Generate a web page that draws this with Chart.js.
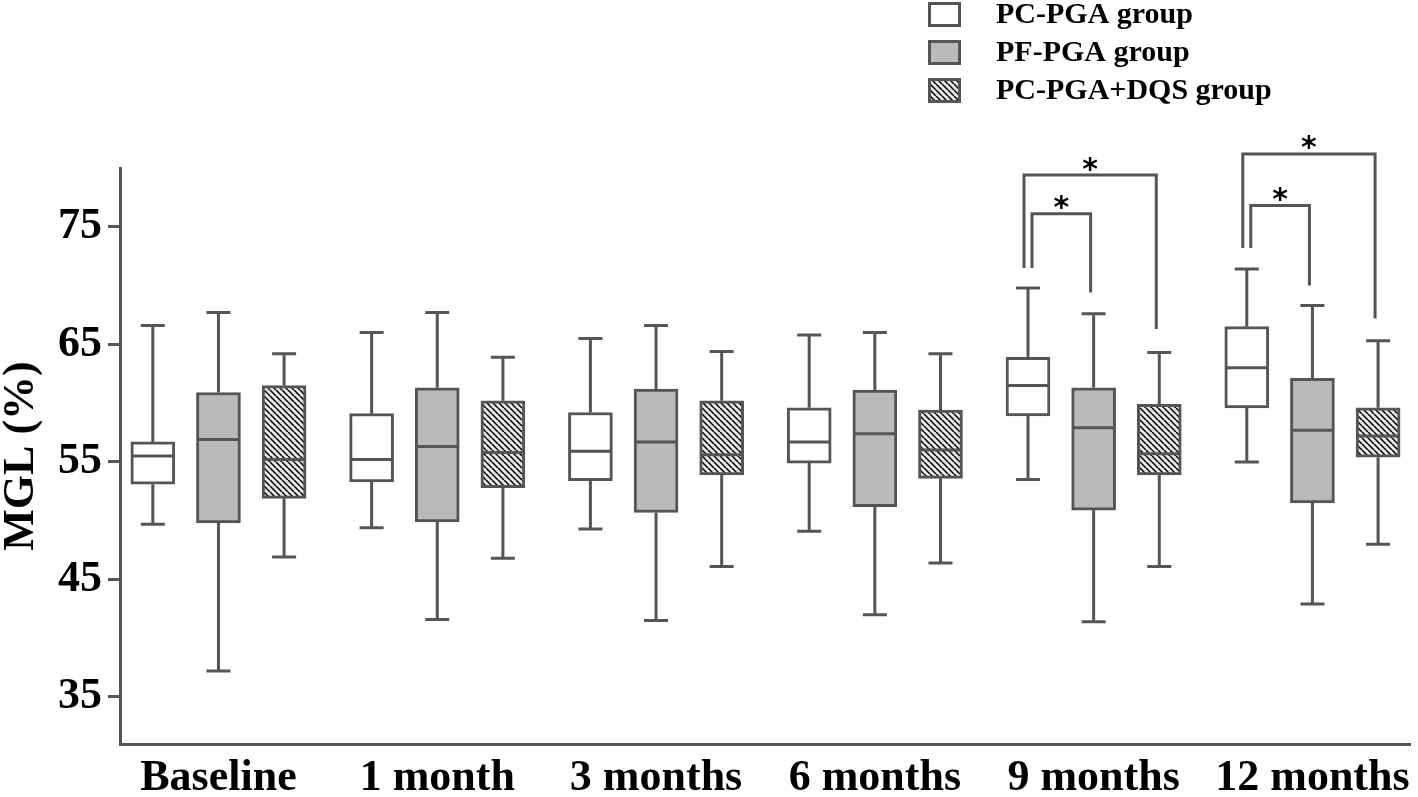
<!DOCTYPE html>
<html>
<head>
<meta charset="utf-8">
<script src="https://cdn.jsdelivr.net/npm/chart.js@4.4.0/dist/chart.umd.min.js"></script>
<style>
html,body{margin:0;padding:0;background:#fff;overflow:hidden;}
#wrap{width:1418px;height:797px;position:relative;}
</style>
</head>
<body>
<div id="wrap"><canvas id="box-chart"></canvas></div>
<script>
var categories=['Baseline','1 month','3 months','6 months','9 months','12 months'];
var groupNames=['PC-PGA group','PF-PGA group','PC-PGA+DQS group'];
var yTicks=[35,45,55,65,75];

// PC-PGA group (흰 박스)
var pcMin=[49.7,49.4,49.3,49.1,53.5,55.0];
var pcQ1=[53.1,53.3,53.4,54.9,58.9,59.6];
var pcMed=[55.5,55.2,55.9,56.7,61.5,63.0];
var pcQ3=[56.7,59.1,59.2,59.6,63.9,66.5];
var pcMax=[66.6,66.0,65.5,65.8,69.8,71.4];

// PF-PGA group (회색 박스)
var pfMin=[37.2,41.6,41.5,42.0,41.4,42.9];
var pfQ1=[49.8,49.9,50.7,51.2,50.9,51.5];
var pfMed=[56.9,56.3,56.7,57.4,57.9,57.7];
var pfQ3=[60.9,61.3,61.2,61.1,61.3,62.1];
var pfMax=[67.7,67.7,66.6,66.0,67.6,68.3];

// PC-PGA+DQS group (빗금 박스)
var dqMin=[46.9,46.8,46.1,46.4,46.1,48.0];
var dqQ1=[51.9,52.8,53.9,53.6,53.9,55.4];
var dqMed=[55.2,55.8,55.6,56.0,55.7,57.2];
var dqQ3=[61.5,60.2,60.2,59.4,59.9,59.6];
var dqMax=[64.2,63.9,64.4,64.2,64.3,65.3];

// 유의성 괄호: 카테고리, 비교 그룹, 높이(값)
var bracketCat=[4,4,5,5];
var bracketFrom=[0,0,0,0];
var bracketTo=[1,2,1,2];
var bracketTop=[76.1,79.4,76.8,81.2];
var bracketLeftEnd=[71.5,71.5,73.2,73.2];
var bracketRightEnd=[69.4,66.3,70.0,67.2];

var stats=[
    {min:pcMin,q1:pcQ1,med:pcMed,q3:pcQ3,max:pcMax},
    {min:pfMin,q1:pfQ1,med:pfMed,q3:pfQ3,max:pfMax},
    {min:dqMin,q1:dqQ1,med:dqMed,q3:dqQ3,max:dqMax}
];

var groupOffset=[-0.3,0,0.3];
var lineCol='#555555';
var fontFam='"Liberation Serif", "Times New Roman", serif';

let canvas=document.getElementById('box-chart');
let ctx0=canvas.getContext('2d');

let makeHatch=function(){
    var c=document.createElement('canvas');
    c.width=6; c.height=6;
    var g=c.getContext('2d');
    g.fillStyle='#e6e6e6';
    g.fillRect(0,0,6,6);
    g.strokeStyle='#000';
    g.lineWidth=1.5;
    for(var k=-1;k<=1;k++){
        g.beginPath();
        g.moveTo(k*6,0);
        g.lineTo(k*6+6,6);
        g.stroke();
    }
    return ctx0.createPattern(c,'repeat');
};
var hatch=makeHatch();
var fills=['#ffffff','#b9b9b9',hatch];

let buildDatasets=function(){
    var out=[];
    for(var d=0;d<3;d++){
        var pts=[];
        for(var i=0;i<categories.length;i++){
            pts.push({x:i+groupOffset[d],y:[stats[d].q1[i],stats[d].q3[i]]});
        }
        out.push({
            label:groupNames[d],
            data:pts,
            backgroundColor:fills[d],
            borderColor:lineCol,
            borderWidth:3,
            borderSkipped:false,
            barThickness:44,
            grouped:false
        });
    }
    return out;
};

// 수염, 중앙값 선
var boxExtras={
    id:'boxExtras',
    afterDatasetsDraw:function(chart){
        var ctx=chart.ctx, ys=chart.scales.y;
        ctx.save();
        ctx.strokeStyle=lineCol;
        ctx.lineWidth=3;
        chart.data.datasets.forEach(function(ds,d){
            var meta=chart.getDatasetMeta(d);
            meta.data.forEach(function(bar,i){
                var st=stats[d];
                var x=bar.x, half=bar.width/2;
                var yMax=ys.getPixelForValue(st.max[i]);
                var yMin=ys.getPixelForValue(st.min[i]);
                var yQ1=ys.getPixelForValue(st.q1[i]);
                var yQ3=ys.getPixelForValue(st.q3[i]);
                var yMed=ys.getPixelForValue(st.med[i]);
                ctx.beginPath();
                ctx.moveTo(x,yQ3); ctx.lineTo(x,yMax);
                ctx.moveTo(x-12,yMax); ctx.lineTo(x+12,yMax);
                ctx.moveTo(x,yQ1); ctx.lineTo(x,yMin);
                ctx.moveTo(x-12,yMin); ctx.lineTo(x+12,yMin);
                ctx.moveTo(x-half+1.5,yMed); ctx.lineTo(x+half-1.5,yMed);
                ctx.stroke();
            });
        });
        ctx.restore();
    },
    afterDraw:function(chart){
        var ctx=chart.ctx, xs=chart.scales.x, ys=chart.scales.y;
        ctx.save();
        // 괄호 + 별표
        ctx.strokeStyle=lineCol;
        ctx.lineWidth=3;
        for(var b=0;b<bracketCat.length;b++){
            var c=bracketCat[b];
            var xl=xs.getPixelForValue(c+groupOffset[bracketFrom[b]])+(bracketTo[b]==2?-4:4);
            var xr=xs.getPixelForValue(c+groupOffset[bracketTo[b]])-3;
            var yt=ys.getPixelForValue(bracketTop[b]);
            ctx.beginPath();
            ctx.moveTo(xl,ys.getPixelForValue(bracketLeftEnd[b]));
            ctx.lineTo(xl,yt);
            ctx.lineTo(xr,yt);
            ctx.lineTo(xr,ys.getPixelForValue(bracketRightEnd[b]));
            ctx.stroke();
            ctx.fillStyle='#000';
            ctx.font='bold 30px "DejaVu Sans"';
            ctx.textAlign='center';
            ctx.textBaseline='alphabetic';
            var m=ctx.measureText('*');
            var target=yt-11;
            ctx.fillText('*',(xl+xr)/2,target+(m.actualBoundingBoxAscent-m.actualBoundingBoxDescent)/2);
        }
        // 범례
        for(var g=0;g<3;g++){
            var ly=2+g*38;
            ctx.fillStyle=fills[g];
            ctx.fillRect(928,ly,33,25);
            ctx.strokeStyle=lineCol;
            ctx.lineWidth=3;
            ctx.strokeRect(929.5,ly+1.5,30,22);
            ctx.fillStyle='#000';
            ctx.font='bold 30px '+fontFam;
            ctx.textAlign='left';
            ctx.textBaseline='middle';
            ctx.fillText(groupNames[g],996,ly+13);
        }
        ctx.restore();
    }
};

window.boxChart=new Chart(ctx0,{
    type:'bar',
    data:{datasets:buildDatasets()},
    options:{
        responsive:true,
        maintainAspectRatio:false,
        animation:false,
        events:[],
        layout:{padding:{top:168,right:5,left:0,bottom:0}},
        plugins:{legend:{display:false},tooltip:{enabled:false}},
        scales:{
            x:{
                type:'linear',
                min:-0.45,
                max:5.45,
                offset:false,
                afterBuildTicks:function(s){ s.ticks=categories.map(function(c,i){return {value:i};}); },
                afterFit:function(s){ s.height=53; },
                grid:{display:true,drawOnChartArea:false,drawTicks:false,offset:false},
                border:{display:true,color:lineCol,width:3},
                ticks:{
                    autoSkip:false,
                    maxRotation:0,
                    padding:8,
                    color:'#000',
                    font:{family:fontFam,size:44,weight:'bold'},
                    callback:function(v){ return categories[Math.round(v)]; }
                }
            },
            y:{
                min:31,
                max:80,
                afterBuildTicks:function(s){ s.ticks=yTicks.map(function(v){return {value:v};}); },
                afterFit:function(s){ s.width=120; },
                grid:{display:true,drawOnChartArea:false,drawTicks:true,tickLength:12,color:lineCol,lineWidth:3},
                border:{display:true,color:lineCol,width:3},
                ticks:{padding:6,color:'#000',font:{family:fontFam,size:44,weight:'bold'}},
                title:{display:true,text:'MGL (%)',color:'#000',padding:0,font:{family:fontFam,size:44,weight:'bold',lineHeight:1}}
            }
        }
    },
    plugins:[boxExtras]
});
</script>
</body>
</html>
